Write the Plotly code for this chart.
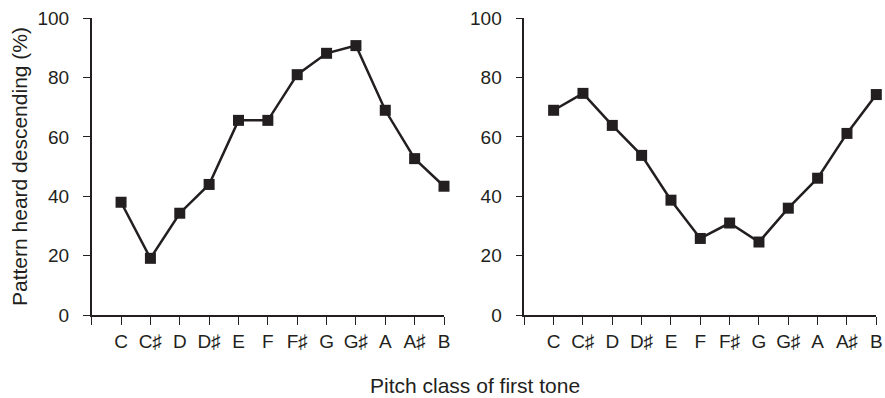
import plotly.graph_objects as go

pitch_classes = ["C", "C♯", "D", "D♯", "E", "F", "F♯", "G", "G♯", "A", "A♯", "B"]
left_values = [38.0, 19.1, 34.3, 44.0, 65.6, 65.6, 81.0, 88.2, 90.8, 69.0, 52.7, 43.4]
right_values = [69.0, 74.7, 63.9, 53.8, 38.7, 25.8, 31.0, 24.6, 36.0, 46.1, 61.2, 74.3]
y_ticks = [0, 20, 40, 60, 80, 100]

INK = "#231f20"
FONT = "Liberation Sans, DejaVu Sans, sans-serif"

positions = list(range(1, len(pitch_classes) + 1))

fig = go.Figure()
for vals, xa, ya in [(left_values, "x", "y"), (right_values, "x2", "y2")]:
    fig.add_trace(go.Scatter(
        x=positions, y=vals, xaxis=xa, yaxis=ya, mode="lines+markers",
        line=dict(color=INK, width=2.5),
        marker=dict(symbol="square", size=11, color=INK),
        showlegend=False, cliponaxis=False,
    ))

ydom = [83 / 398, 379.7 / 398]
xcommon = dict(
    range=[0, 12], tickmode="array", tickvals=list(range(0, 13)),
    ticktext=[""] + pitch_classes, ticks="outside", ticklen=8, tickwidth=1.3,
    tickcolor=INK, showline=True, linecolor=INK, linewidth=1.5,
    showgrid=False, zeroline=False, tickfont=dict(family=FONT, size=19, color=INK),
    automargin=False, fixedrange=True,
)
ycommon = dict(
    range=[0, 100], tickmode="array", tickvals=y_ticks, ticks="outside",
    ticklen=7, tickwidth=1.3, tickcolor=INK, showline=True, linecolor=INK,
    linewidth=1.5, showgrid=False, zeroline=False, ticklabelstandoff=10,
    tickfont=dict(family=FONT, size=19, color=INK), automargin=False,
    fixedrange=True, domain=ydom,
)

fig.update_layout(
    width=885, height=398,
    margin=dict(l=0, r=0, t=0, b=0),
    paper_bgcolor="white", plot_bgcolor="white",
    font=dict(family=FONT, color=INK),
    xaxis=dict(domain=[91.7 / 885, 444 / 885], anchor="y", **xcommon),
    yaxis=dict(anchor="x", **ycommon),
    xaxis2=dict(domain=[524.3 / 885, 876.3 / 885], anchor="y2", **xcommon),
    yaxis2=dict(anchor="x2", **ycommon),
    annotations=[
        dict(text="Pattern heard descending (%)", x=19 / 885, y=(398 - 167) / 398,
             xref="paper", yref="paper", textangle=-90, showarrow=False,
             xanchor="center", yanchor="middle",
             font=dict(family=FONT, size=21, color=INK)),
        dict(text="Pitch class of first tone", x=475 / 885, y=(398 - 385) / 398,
             xref="paper", yref="paper", showarrow=False,
             xanchor="center", yanchor="middle",
             font=dict(family=FONT, size=21, color=INK)),
    ],
)

fig.write_html("out.html")
